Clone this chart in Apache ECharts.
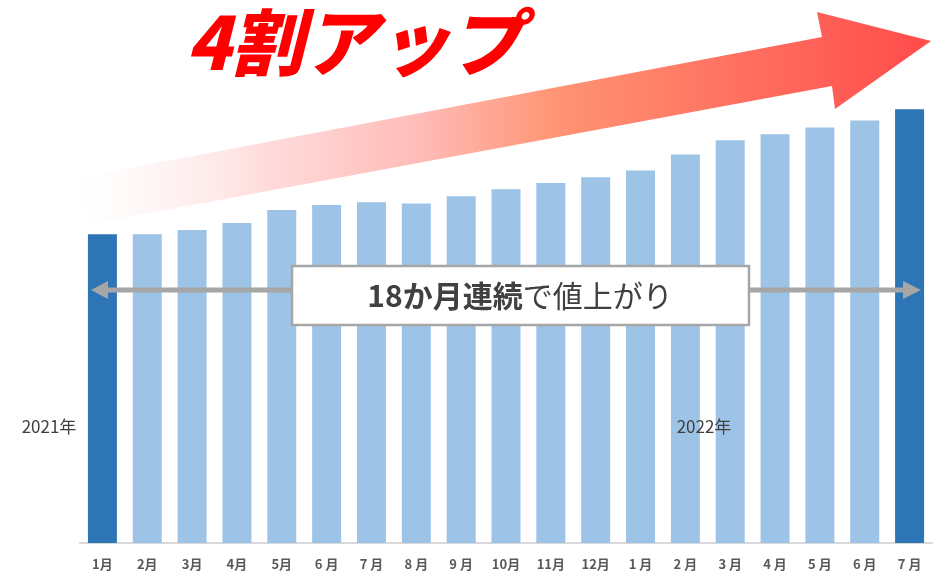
<!DOCTYPE html>
<html>
<head>
<meta charset="utf-8">
<script src="https://cdn.jsdelivr.net/npm/echarts@6/dist/echarts.min.js"></script>
<style>
  html, body { margin: 0; padding: 0; background: #fff; }
  #main { width: 947px; height: 574px; }
</style>
</head>
<body>
<div id="main"></div>
<script>
// 2021年1月 = 100 とした指数
const months = ['1月', '2月', '3月', '4月', '5月', '6 月', '7 月', '8 月', '9 月', '10月', '11月', '12月',
  '1 月', '2 月', '3 月', '4 月', '5 月', '6 月', '7 月'];
const values = [100, 100, 101.4, 103.7, 107.9, 109.5, 110.4, 110.0, 112.3, 114.6, 116.6, 118.5,
  120.7, 125.9, 130.5, 132.4, 134.6, 136.9, 140.5];
const yearLabels = ['2021年', '2022年'];
const title = '4割アップ';

const FONT = '"Noto Sans CJK JP", "Noto Sans", sans-serif';
const DARK = '#2e75b6';
const LIGHT = '#9dc3e6';
const GRAY = '#a6a6a6';

let myChart = echarts.init(document.getElementById('main'));

const option = {
  animation: false,
  grid: { left: 80, right: 15, top: 80, bottom: 31 },
  xAxis: {
    type: 'category',
    data: months,
    axisTick: { show: false },
    axisLine: { lineStyle: { color: '#d9d9d9', width: 2 } },
    axisLabel: {
      color: '#595959',
      fontFamily: FONT,
      fontWeight: 'bold',
      fontSize: 13,
      margin: 15
    }
  },
  yAxis: {
    type: 'value',
    min: 0,
    max: 150,
    show: false,
    splitLine: { show: false }
  },
  series: [{
    type: 'bar',
    barWidth: 29,
    data: values,
    itemStyle: {
      color: function (p) {
        return (p.dataIndex === 0 || p.dataIndex === values.length - 1) ? DARK : LIGHT;
      }
    }
  }],
  graphic: [
    // 大きな矢印
    {
      type: 'polygon',
      z: 50,
      shape: {
        points: [[77, 178], [822, 37], [817, 12], [931, 41], [835, 109], [832, 86], [85, 225]]
      },
      style: {
        fill: new echarts.graphic.LinearGradient(0, 0, 1, 0, [
          { offset: 0, color: 'rgba(255,240,240,0)' },
          { offset: 0.22, color: '#ffdcdc' },
          { offset: 0.4, color: '#ffbcb8' },
          { offset: 0.56, color: '#ff9474' },
          { offset: 1, color: '#ff4b4b' }
        ])
      }
    },
    {
      type: 'text',
      z: 60,
      left: 186,
      top: 6,
      style: {
        text: title,
        fill: '#ff0000',
        font: 'italic 900 73px ' + FONT
      }
    },
    // 両矢印
    {
      type: 'line',
      z: 70,
      shape: { x1: 105, y1: 290, x2: 906, y2: 290 },
      style: { stroke: GRAY, lineWidth: 5 }
    },
    {
      type: 'polygon',
      z: 70,
      shape: { points: [[91, 290], [108, 281], [108, 299]] },
      style: { fill: GRAY }
    },
    {
      type: 'polygon',
      z: 70,
      shape: { points: [[921, 290], [903, 281], [903, 299]] },
      style: { fill: GRAY }
    },
    {
      type: 'rect',
      z: 80,
      shape: { x: 292, y: 266, width: 457, height: 59 },
      style: { fill: '#fff', stroke: GRAY, lineWidth: 2.5 }
    },
    {
      type: 'text',
      z: 90,
      x: 520,
      y: 296,
      style: {
        text: '{b|18か月連続}{n|で値上がり}',
        align: 'center',
        verticalAlign: 'middle',
        rich: {
          b: { fontFamily: FONT, fontWeight: 'bold', fontSize: 30, fill: '#404040' },
          n: { fontFamily: FONT, fontWeight: 'normal', fontSize: 30, fill: '#404040' }
        }
      }
    },
    // 年ラベル
    {
      type: 'text',
      z: 90,
      x: 49,
      y: 427,
      style: {
        text: yearLabels[0],
        align: 'center',
        verticalAlign: 'middle',
        font: '17px ' + FONT,
        fill: '#404040'
      }
    },
    {
      type: 'text',
      z: 90,
      x: 704,
      y: 427,
      style: {
        text: yearLabels[1],
        align: 'center',
        verticalAlign: 'middle',
        font: '17px ' + FONT,
        fill: '#404040'
      }
    }
  ]
};

myChart.setOption(option);
</script>
</body>
</html>
